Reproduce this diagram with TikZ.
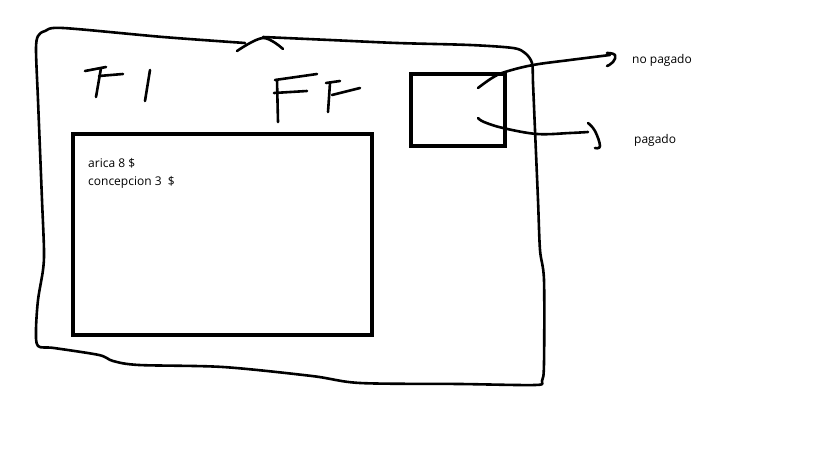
\documentclass[tikz,border=0pt]{standalone}
\usepackage{fontspec}
\setmainfont{Open Sans}
\usepackage{tikz}
\usetikzlibrary{positioning}

\begin{document}
\begin{tikzpicture}[
        x=1pt, y=-1pt,
        pen/.style={line width=2.6pt, line cap=round, line join=round},
        box/.style={rectangle, draw=black, line width=4.5pt, inner sep=0pt},
        label/.style={anchor=west, font=\fontsize{12}{14}\selectfont, inner sep=0pt},
        entry/.style={anchor=west, font=\fontsize{12}{14}\selectfont, inner sep=0pt}
    ]
    \useasboundingbox (0,0) rectangle (819,460);

    % Nodes
    \node (tabla) [box, minimum width=299pt, minimum height=201pt] at (222.5,234.5) {};
    \node (estado) [box, minimum width=94pt, minimum height=72pt] at (458,110) {};
    \node (arica) [entry] at (88,163) {arica 8 \$};
    \node (concepcion) [entry, below=8pt of arica.south west, anchor=north west] {concepcion 3~~\$};
    \node (nopagado) [label] at (632,60) {no pagado};
    \node (pagado) [label] at (634,140) {pagado};
    \coordinate (np) at (478,88);
    \coordinate (p) at (478,118);

    % Frame
    \draw [pen] plot[smooth, tension=0.5] coordinates {(263,37) (330,40) (397,43) (470,45) (513,48) (525,53) (532,63) (533,83) (535,130) (538,200) (540,250) (544,280) (544,363) (542,381) (535,385) (460,384) (360,383) (312,376) (223,367) (139,365) (113,361) (99,355) (54,348) (38,346) (36,330) (38,300) (43,270) (44,250) (42,200) (40,150) (38,100) (36,50) (38,36) (45,31) (63,28) (163,37) (245,43)};
    \draw [pen] plot[smooth, tension=0.6] coordinates {(237,51) (263,38) (283,49)};

    % F1
    \draw [pen] (85,71) -- (106,67);
    \draw [pen] (99,76) -- (123,74);
    \draw [pen] (101,68) -- (96,97);
    \draw [pen] (150,70) -- (145,101);
    % FF
    \draw [pen] (275,80) -- (317,74);
    \draw [pen] (277,80) -- (278,122);
    \draw [pen] (274,93) -- (307,91);
    \draw [pen] (326,83) -- (340,81);
    \draw [pen] (330,83) -- (328,112);
    \draw [pen] (332,95) -- (360,88);

    % Arrows
    \draw [pen] plot[smooth, tension=0.6] coordinates {(np) (492,78) (505,72) (533,65) (570,60) (610,55)};
    \draw [pen] plot[smooth, tension=0.8] coordinates {(607,53) (615,55) (613,62) (607,66)};
    \draw [pen] plot[smooth, tension=0.6] coordinates {(p) (484,122) (503,128) (537,134) (570,133) (588,132)};
    \draw [pen] plot[smooth, tension=0.7] coordinates {(588,123) (595,131) (600,146) (595,148)};

\end{tikzpicture}
\end{document}
